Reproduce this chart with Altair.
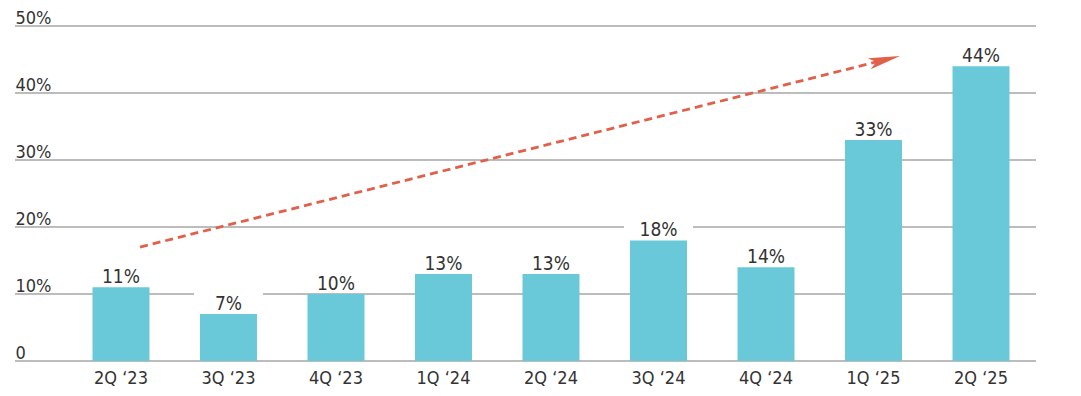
import altair as alt
import pandas as pd

# ---- data ----
quarters = ["2Q ‘23", "3Q ‘23", "4Q ‘23", "1Q ‘24", "2Q ‘24",
            "3Q ‘24", "4Q ‘24", "1Q ‘25", "2Q ‘25"]
values = [11, 7, 10, 13, 13, 18, 14, 33, 44]
grid_values = [0, 10, 20, 30, 40, 50]
# trend arrow, in category-index units (x) and percent (y)
arrow_pos = [0.187, 7.096]
arrow_val = [17.0, 44.95]

FONT = "Liberation Sans Narrow, DejaVu Sans Condensed, Roboto, sans-serif"
TEXT = "#333333"
BAR = "#69C9D8"
GRID = "#a6a6a6"
ARROW = "#E0604A"

bars_df = pd.DataFrame({"quarter": quarters, "value": values})
grid_df = pd.DataFrame({"v": grid_values})
arrow_df = pd.DataFrame({"pos": arrow_pos, "val": arrow_val, "order": [0, 1]})
head_df = arrow_df.iloc[[1]].reset_index(drop=True)

yscale = alt.Scale(domain=[0, 50], nice=False, zero=True)
yaxis = alt.Axis(
    title=None, values=grid_values, grid=False, domain=False, ticks=False,
    tickSize=0, labelAlign="left", labelPadding=51, labelBaseline="alphabetic",
    labelOffset=-3, labelFont=FONT, labelFontSize=18, labelColor=TEXT,
    labelExpr="datum.value == 0 ? '0' : datum.value + '%'",
)

xband = alt.X(
    "quarter:N", sort=quarters,
    scale=alt.Scale(paddingInner=0.47, paddingOuter=0.2465),
    axis=alt.Axis(title=None, domain=False, ticks=False, labelAngle=0,
                  labelFont=FONT, labelFontSize=18, labelColor=TEXT,
                  labelPadding=8, grid=False),
)

grid = alt.Chart(grid_df).mark_rule(color=GRID, strokeWidth=1.5).encode(
    y=alt.Y("v:Q", scale=yscale, axis=yaxis),
    x=alt.value(-51), x2=alt.value(970),
)

backs = alt.Chart(bars_df).transform_calculate(
    lo="datum.value + 0.3", hi="datum.value + 3.6"
).mark_bar(color="white", width=69).encode(
    x=xband,
    y=alt.Y("lo:Q", scale=yscale, axis=yaxis),
    y2="hi:Q",
)

bars = alt.Chart(bars_df).mark_bar(color=BAR).encode(
    x=xband,
    y=alt.Y("value:Q", scale=yscale, axis=yaxis),
)

labels = alt.Chart(bars_df).transform_calculate(
    label="datum.value + '%'"
).mark_text(baseline="alphabetic", dy=-4, font=FONT, fontSize=19, color=TEXT).encode(
    x=xband,
    y=alt.Y("value:Q", scale=yscale, axis=yaxis),
    text="label:N",
)

ax = alt.X("pos:Q", scale=alt.Scale(domain=[-0.5, 8.5], nice=False, zero=False), axis=None)

arrow_line = alt.Chart(arrow_df).mark_line(
    color=ARROW, strokeWidth=2.8, strokeDash=[8, 5]
).encode(
    x=ax,
    y=alt.Y("val:Q", scale=yscale, axis=yaxis),
    order="order:Q",
)

arrow_head = alt.Chart(head_df).mark_point(
    shape="M1,0 L-1,-0.36 L-0.55,0 L-1,0.36 Z", size=1000, filled=True,
    color=ARROW, opacity=1, angle=346,
).encode(
    x=ax,
    y=alt.Y("val:Q", scale=yscale, axis=yaxis),
)

band_layer = alt.layer(grid, backs, bars, labels)
arrow_layer = alt.layer(arrow_line, arrow_head)

chart = alt.layer(band_layer, arrow_layer).resolve_scale(
    x="independent"
).properties(
    width=970, height=335,
    autosize=alt.AutoSizeParams(type="none"),
    padding={"left": 58, "top": 18, "right": 20, "bottom": 30},
).configure_view(stroke=None)

chart.save("out.html", embed_options={"renderer": "svg", "actions": False})
